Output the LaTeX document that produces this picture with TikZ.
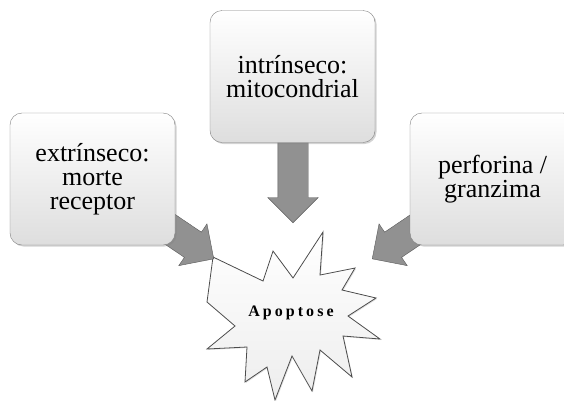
\documentclass[tikz,border=0pt]{standalone}
\usepackage{fontspec}
\setmainfont{Liberation Serif}
\newfontfamily\apofont[LetterSpace=19]{Liberation Serif}
\usetikzlibrary{shapes.arrows,shadows}

\begin{document}
\begin{tikzpicture}[x=1pt, y=-1pt,
  box/.style={draw=black!50, rounded corners=12pt, minimum width=165pt, minimum height=132pt, align=center,
    font=\fontsize{26}{24}\selectfont, top color=white, bottom color=black!13,
    drop shadow={opacity=0.35, shadow xshift=1.5pt, shadow yshift=-1.5pt}},
  blk/.style={single arrow, draw=black!65, fill=black!43, single arrow head extend=10pt,
    single arrow tip angle=90, inner xsep=0pt, inner ysep=15pt, anchor=tip},
  burst/.style={draw=black!70, line width=0.8pt, top color=white, bottom color=black!7, line join=miter,
    drop shadow={opacity=0.25, shadow xshift=1pt, shadow yshift=-1pt}},
  lbl/.style={font=\apofont\bfseries\fontsize{16}{16}\selectfont}]
\useasboundingbox (0,0) rectangle (564,400);
% burst
\draw[burst] (213,257) -- (263,281) -- (273,251) -- (293,278) -- (323,232) -- (320,275) -- (355,268)
  -- (342,290) -- (376,298) -- (348,316) -- (380,339) -- (343,336) -- (352,377) -- (320,350)
  -- (312,391) -- (292,356) -- (275,400) -- (267,367) -- (245,382) -- (247,347) -- (207,349)
  -- (235,326) -- (207,302) -- cycle;
\node[lbl] (apo) at (291,313) {Apoptose};
% arrow tips
\coordinate (tipL) at (214,259);
\coordinate (tipT) at (293,223);
\coordinate (tipR) at (372,259);
\node[blk, minimum height=75pt, rotate=-34] (arrL) at (tipL) {};
\node[blk, minimum height=90pt, rotate=-90] (arrT) at (tipT) {};
\node[blk, minimum height=75pt, rotate=-146] (arrR) at (tipR) {};
% boxes
\node[box] (ext) at (92.5,179) {extrínseco:\\morte\\receptor};
\node[box] (intr) at (292.5,76.5) {intrínseco:\\mitocondrial};
\node[box] (perf) at (492.5,179) {perforina /\\granzima};
\end{tikzpicture}
\end{document}
